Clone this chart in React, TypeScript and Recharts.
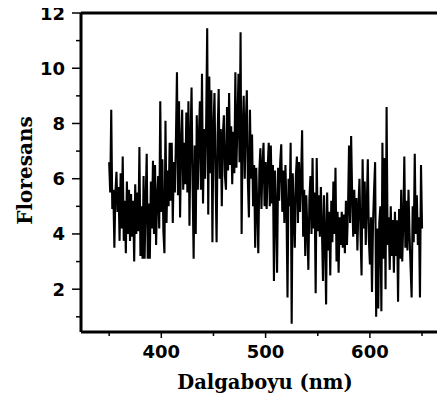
import React from 'react';
import { LineChart, Line, XAxis, YAxis, ReferenceLine } from 'recharts';

const START_NM = 350;
const STEP_NM = 1;

const intensity: number[] = [
  6.6, 5.5, 8.5, 4.9, 5.6, 3.5, 5.5, 6.25, 4.8, 5.7,
  3.75, 6.2, 4.2, 6.8, 3.75, 5.2, 3.3, 5.9, 4.0, 5.6,
  3.75, 5.45, 3.9, 5.2, 3.0, 5.8, 4.0, 5.5, 4.1, 7.15,
  3.2, 5.0, 3.1, 6.1, 3.1, 5.2, 6.9, 3.1, 5.1, 3.1,
  5.9, 4.2, 6.65, 4.0, 6.5, 3.6, 5.3, 6.1, 4.2, 8.8,
  4.8, 6.7, 4.1, 3.3, 8.1, 4.4, 6.3, 5.0, 7.3, 5.2,
  7.3, 4.4, 6.6, 5.5, 7.4, 9.85, 5.4, 8.8, 4.6, 7.2,
  8.5, 5.6, 7.3, 5.8, 8.4, 5.5, 8.8, 4.3, 7.4, 9.3,
  5.8, 3.1, 7.2, 4.0, 8.3, 5.6, 7.5, 8.8, 5.6, 9.8,
  5.1, 7.8, 6.0, 8.0, 11.45, 4.7, 9.7, 6.2, 9.2, 3.7,
  7.8, 9.1, 6.1, 3.7, 7.6, 9.25, 6.0, 7.8, 5.0, 7.6,
  8.3, 6.1, 5.6, 8.6, 6.3, 9.1, 6.5, 7.9, 5.8, 7.7,
  6.2, 9.85, 6.4, 8.0, 9.8, 6.6, 11.3, 4.0, 7.8, 9.0,
  6.0, 8.0, 9.2, 5.9, 4.6, 8.5, 6.0, 7.6, 5.0, 6.5,
  3.5, 6.4, 5.0, 3.3, 6.3, 7.1, 4.9, 6.5, 7.3, 5.0,
  6.6, 4.9, 6.4, 7.3, 5.0, 7.2, 5.1, 6.5, 2.3, 6.3,
  5.0, 2.6, 6.4, 5.2, 6.6, 7.25, 4.8, 6.3, 4.4, 6.5,
  5.0, 1.7, 6.0, 5.0, 7.3, 0.75, 6.2, 4.9, 3.5, 6.1,
  6.8, 4.4, 6.6, 4.8, 6.0, 7.75, 3.9, 5.6, 3.2, 5.4,
  4.2, 2.7, 5.3, 6.1, 4.0, 6.75, 4.2, 5.5, 1.85, 6.75,
  4.1, 5.4, 3.9, 5.7, 4.2, 2.3, 5.4, 4.0, 1.45, 5.5,
  3.4, 4.8, 2.5, 5.2, 3.7, 5.9, 4.0, 6.4, 3.0, 4.8,
  2.6, 4.6, 3.6, 4.8, 3.5, 4.7, 3.3, 5.2, 3.6, 4.9,
  7.2, 4.4, 7.55, 5.4, 3.9, 5.6, 4.0, 5.3, 3.4, 5.0,
  6.0, 4.0, 2.5, 6.7, 4.2, 5.9, 3.6, 5.0, 6.7, 3.8,
  2.9, 4.6, 1.9, 4.4, 5.6, 6.6, 1.0, 4.2, 1.3, 4.4,
  5.0, 1.2, 7.3, 3.1, 6.75, 2.0, 8.6, 3.6, 4.6, 2.7,
  5.0, 3.2, 4.5, 2.6, 4.8, 3.2, 4.5, 1.55, 4.9, 3.1,
  5.6, 3.0, 4.4, 6.8, 3.5, 5.2, 3.4, 5.6, 4.0, 2.8,
  1.7, 5.0, 3.7, 6.9, 4.0, 5.4, 3.6, 4.6, 1.7, 6.5,
  4.2,
];

const xTicks = [350, 400, 450, 500, 550, 600, 650];
const xLabelled = [400, 500, 600];
const yTicks = [1, 2, 3, 4, 5, 6, 7, 8, 9, 10, 11, 12];
const yLabelled = [2, 4, 6, 8, 10, 12];

const X_TITLE = 'Dalgaboyu (nm)';
const Y_TITLE = 'Floresans';

const data = intensity.map((v, i) => ({ nm: START_NM + i * STEP_NM, f: v }));

const TICK_FONT = 'DejaVu Sans';
const TITLE_FONT = 'DejaVu Serif';

const XTick = (props: any) => {
  const { x, y, payload } = props;
  const major = xLabelled.includes(payload.value);
  return (
    <g>
      <line x1={x} x2={x} y1={y} y2={y + (major ? 6 : 4)} stroke="#000" strokeWidth={1.5} />
      {major && (
        <text x={x} y={y + 26} textAnchor="middle" fontFamily={TICK_FONT} fontWeight="bold" fontSize={18} fill="#000">
          {payload.value}
        </text>
      )}
    </g>
  );
};

const YTick = (props: any) => {
  const { x, y, payload } = props;
  const major = yLabelled.includes(payload.value);
  return (
    <g>
      <line x1={x - (major ? 9 : 5)} x2={x} y1={y} y2={y} stroke="#000" strokeWidth={1.5} />
      {major && (
        <text x={x - 16} y={y + 6.5} textAnchor="end" fontFamily={TICK_FONT} fontWeight="bold" fontSize={18} fill="#000">
          {payload.value}
        </text>
      )}
    </g>
  );
};

const XTitle = (props: any) => {
  const vb = props.viewBox || {};
  const cx = vb.x + vb.width / 2 + 2;
  return (
    <text x={cx} y={vb.y + 57} textAnchor="middle" fontFamily={TITLE_FONT} fontWeight="bold" fontSize={19.5} fill="#000">
      {X_TITLE}
    </text>
  );
};

const YTitle = (props: any) => {
  const vb = props.viewBox || {};
  const cx = vb.x + 25;
  const cy = vb.y + vb.height / 2 - 2;
  return (
    <text
      x={cx}
      y={cy}
      transform={`rotate(-90, ${cx}, ${cy})`}
      textAnchor="middle"
      dominantBaseline="central"
      fontFamily={TITLE_FONT}
      fontWeight="bold"
      fontSize={20}
      fill="#000"
    >
      {Y_TITLE}
    </text>
  );
};

export default function App() {
  return (
    <div style={{ width: 445, height: 401, margin: '-8px 0 0 -8px', background: '#fff' }}>
      <LineChart
        width={445}
        height={401}
        data={data}
        margin={{ top: 13, right: 0, bottom: 0, left: 0 }}
        style={{ overflow: 'visible' }}
      >
        <XAxis
          dataKey="nm"
          type="number"
          domain={[323, 672]}
          allowDataOverflow
          ticks={xTicks}
          interval={0}
          height={69}
          tickSize={0}
          tickMargin={0}
          tickLine={false}
          axisLine={{ stroke: '#000', strokeWidth: 3 }}
          tick={<XTick />}
          label={<XTitle />}
        />
        <YAxis
          type="number"
          domain={[0.45, 12]}
          allowDataOverflow
          ticks={yTicks}
          interval={0}
          width={81}
          tickSize={0}
          tickMargin={0}
          tickLine={false}
          axisLine={{ stroke: '#000', strokeWidth: 3 }}
          tick={<YTick />}
          label={<YTitle />}
        />
        <ReferenceLine y={12} stroke="#000" strokeWidth={3} />
        <Line
          type="linear"
          dataKey="f"
          stroke="#000"
          strokeWidth={2.1}
          dot={false}
          isAnimationActive={false}
        />
      </LineChart>
    </div>
  );
}
